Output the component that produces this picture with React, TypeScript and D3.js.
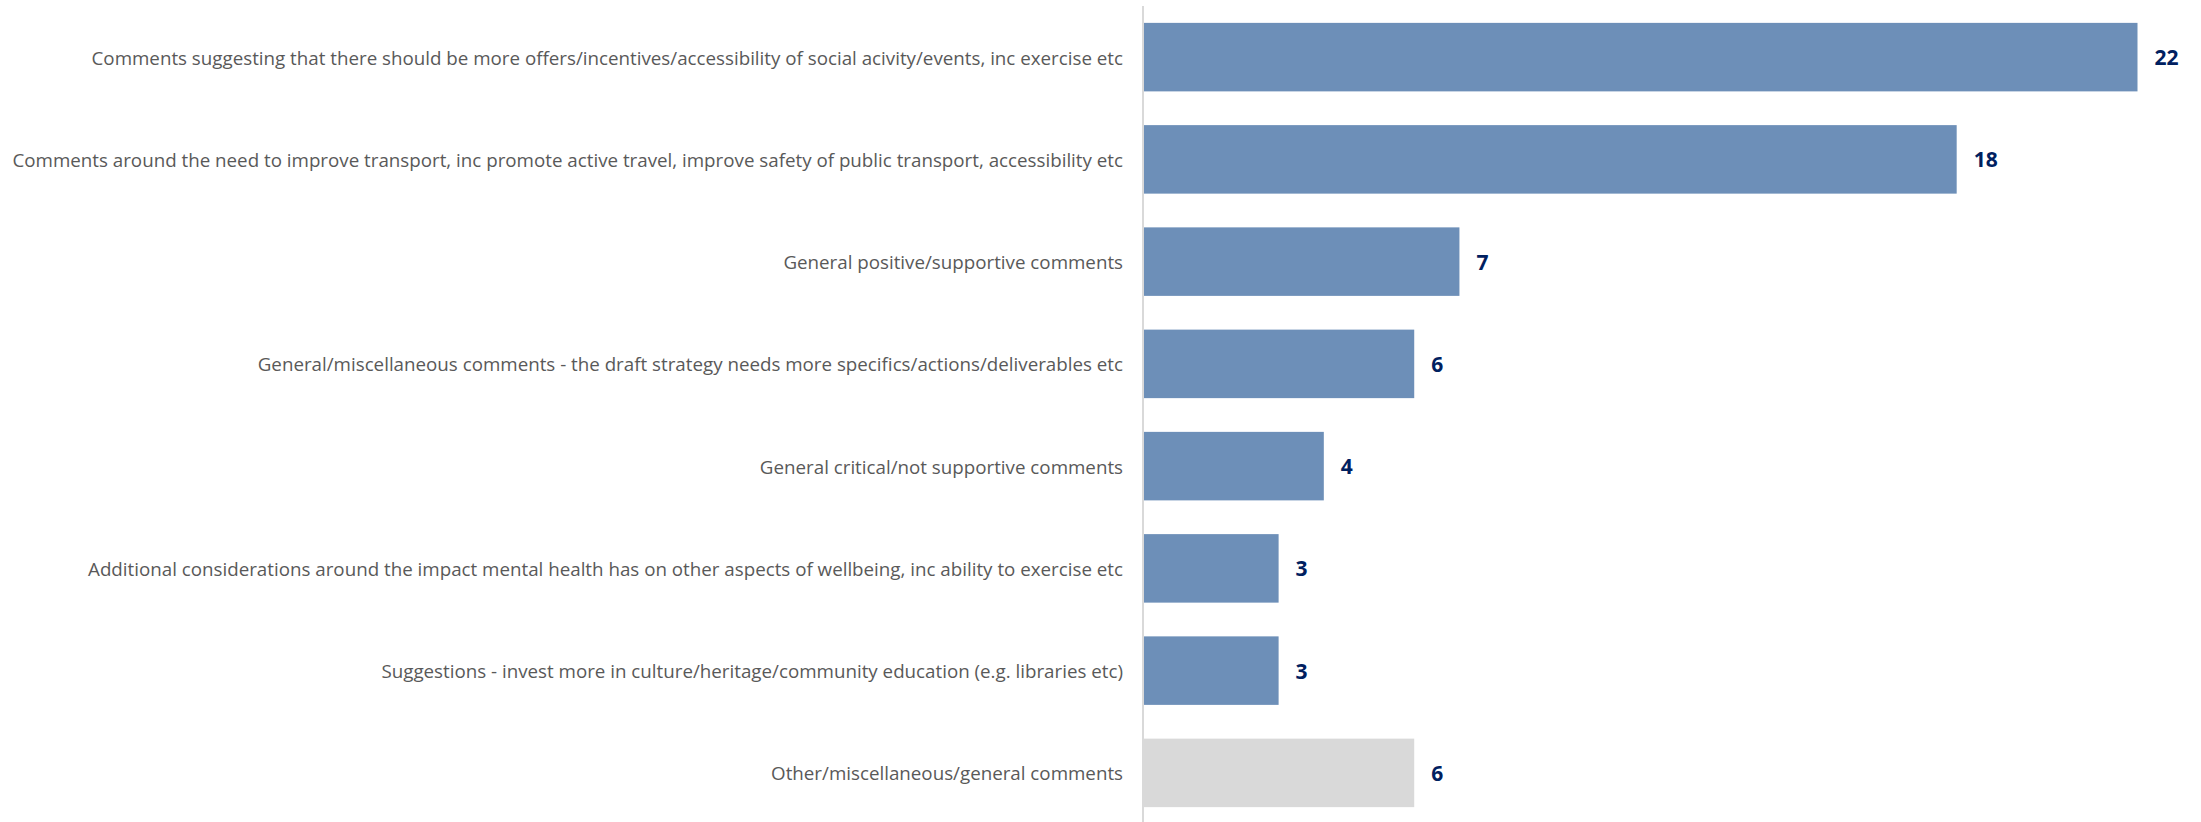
import React from "react";
import * as d3 from "d3";

const categories = [
  "Comments suggesting that there should be more offers/incentives/accessibility of social acivity/events, inc exercise etc",
  "Comments around the need to improve transport, inc promote active travel, improve safety of public transport, accessibility etc",
  "General positive/supportive comments",
  "General/miscellaneous comments - the draft strategy needs more specifics/actions/deliverables etc",
  "General critical/not supportive comments",
  "Additional considerations around the impact mental health has on other aspects of wellbeing, inc ability to exercise etc",
  "Suggestions - invest more in culture/heritage/community education (e.g. libraries etc)",
  "Other/miscellaneous/general comments",
];
const values = [22, 18, 7, 6, 4, 3, 3, 6];
const isOther = [false, false, false, false, false, false, false, true];

const W = 2201;
const H = 822;
const axisX = 1143;

export default function App() {
  const x = d3.scaleLinear().domain([0, 22]).range([axisX, 2137.5]);
  const y = d3
    .scaleBand<string>()
    .domain(categories)
    .range([6, 824])
    .paddingInner(0.33)
    .paddingOuter(0.165);
  const bw = y.bandwidth();
  return (
    <svg
      width={W}
      height={H}
      style={{ position: "absolute", left: 0, top: 0, background: "#fff" }}
      fontFamily="'Open Sans', 'Noto Sans', sans-serif"
    >
      {categories.map((c, i) => {
        const y0 = y(c)!;
        const cy = y0 + bw / 2;
        return (
          <g key={c}>
            <rect
              x={x(0)}
              y={y0}
              width={x(values[i]) - x(0)}
              height={bw}
              fill={isOther[i] ? "#D9D9D9" : "#6D8FB8"}
            />
            <text
              x={axisX - 20}
              y={cy}
              textAnchor="end"
              dominantBaseline="central"
              fontSize={18.75}
              fill="#595959"
            >
              {c}
            </text>
            <text
              x={x(values[i]) + 17}
              y={cy}
              dominantBaseline="central"
              fontSize={21}
              fontWeight="bold"
              fill="#002060"
            >
              {values[i]}
            </text>
          </g>
        );
      })}
      <line x1={axisX} x2={axisX} y1={6} y2={H} stroke="#D9D9D9" strokeWidth={2} />
    </svg>
  );
}
